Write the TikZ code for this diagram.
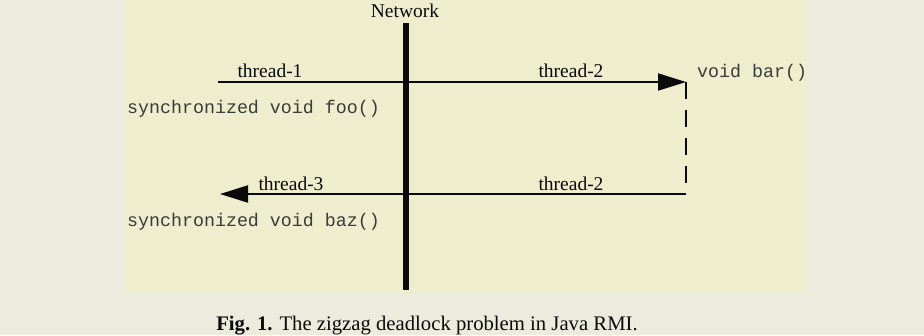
\documentclass[tikz,border=0pt]{standalone}
\usepackage{fontspec}
\setmainfont{Liberation Serif}
\setmonofont{Liberation Mono}
\usetikzlibrary{arrows.meta}
\definecolor{outerbg}{RGB}{236,236,222}
\definecolor{panelbg}{RGB}{238,237,205}
\definecolor{ink}{RGB}{10,10,10}
\tikzset{
  lbl/.style={font=\fontsize{19.5}{19.5}\selectfont, text=ink, inner sep=0pt, anchor=base},
  code/.style={font=\fontsize{18.3}{18.3}\ttfamily, text=ink!80, inner sep=0pt, anchor=base west},
  msg/.style={line width=2pt, draw=ink},
  bigtip/.style={-{Triangle[length=28pt,width=17pt]}},
  wait/.style={line width=2pt, draw=ink, dash pattern=on 17pt off 11pt},
}
\begin{document}
\begin{tikzpicture}[x=1pt,y=-1pt]
\fill[outerbg] (0,0) rectangle (924,335);
\useasboundingbox (0,0) rectangle (924,335);
\fill[panelbg] (125,0) rectangle (807,294);
% network
\node[lbl] (net) at (405,17) {Network};
\coordinate (ntop) at (405.5,23);
\coordinate (nbot) at (405.5,290);
\draw[line width=6pt, draw=ink] (ntop) -- (nbot);
% coordinates
\coordinate (a) at (218,82);
\coordinate (b) at (686,82);
\coordinate (c) at (686,194);
\coordinate (d) at (220,194);
\draw[msg,bigtip] (a) -- (b);
\draw[wait] (b) -- (c);
\draw[msg,bigtip] (c) -- (d);
% labels
\node[lbl] (t1) at (270,77) {thread-1};
\node[lbl] (t2a) at (571,77) {thread-2};
\node[lbl] (t2b) at (571,190) {thread-2};
\node[lbl] (t3) at (291,190) {thread-3};
\node[code] (foo) at (127,113) {synchronized void foo()};
\node[code] (bar) at (697,77) {void bar()};
\node[code] (baz) at (127,226) {synchronized void baz()};
% caption
\node[lbl, font=\fontsize{20.7}{20.7}\selectfont] (cap) at (427,330) {\textbf{Fig. 1.} The zigzag deadlock problem in Java RMI.};
\end{tikzpicture}
\end{document}
